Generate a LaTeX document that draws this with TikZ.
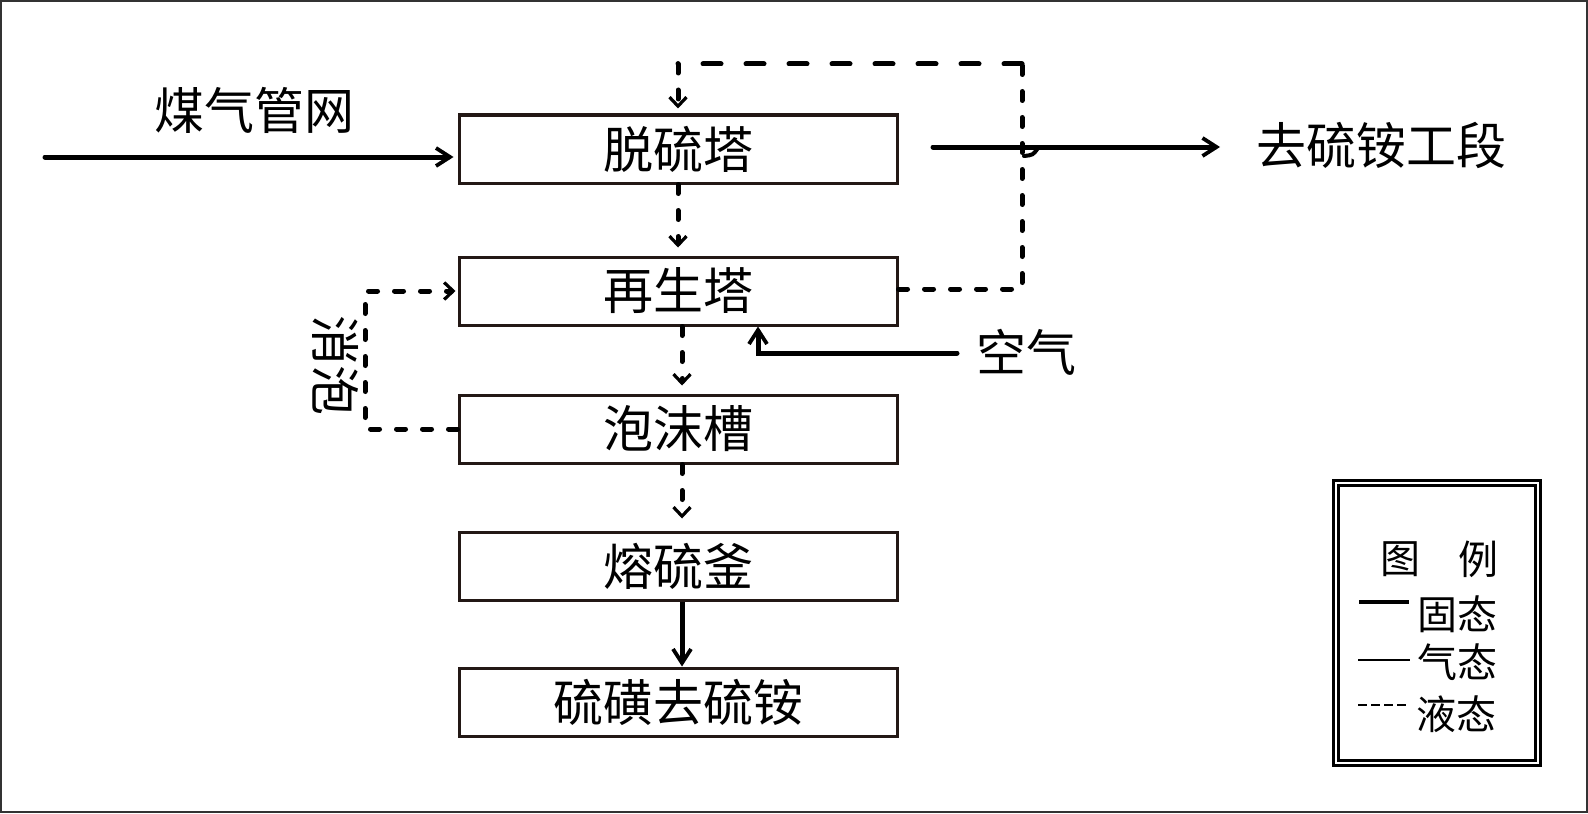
\documentclass[tikz,border=0pt]{standalone}
\usepackage{fontspec}
\newfontfamily\cjkf{Noto Sans CJK SC}
\usetikzlibrary{arrows.meta}
\definecolor{boxc}{HTML}{231815}
\newcommand\bigcn{\cjkf\fontsize{25pt}{30pt}\selectfont}
\newcommand\legcn{\cjkf\fontsize{20pt}{24pt}\selectfont}
\begin{document}
\begin{tikzpicture}[x=0.5pt,y=-0.5pt,
  box/.style={draw=boxc, line width=1.5pt, minimum width=219pt, minimum height=34pt, inner sep=0pt, font=\bigcn},
  lbl/.style={inner sep=0pt, font=\bigcn},
  leglbl/.style={inner sep=0pt, font=\legcn},
  solidarr/.style={line width=2.5pt, -{Straight Barb[length=7pt,width=9pt,line width=1.9pt]}},
  liq/.style={line width=2.5pt, line cap=round, dash pattern=on 4.5pt off 8.5pt},
  liqarr/.style={liq, -{Straight Barb[length=4.5pt,width=8.5pt,line width=1.6pt]}},
  longdash/.style={line width=2.5pt, line cap=round, dash pattern=on 9pt off 12.5pt}
]
\useasboundingbox (0,0) rectangle (1588,813);
\draw[line width=1pt, draw=black!80] (1,1) rectangle (1587,812);

% boxes
\node[box] (b1) at (678,149) {脱硫塔};
\node[box] (b2) at (678,291) {再生塔};
\node[box] (b3) at (678,429) {泡沫槽};
\node[box] (b4) at (678,566) {熔硫釜};
\node[box] (b5) at (678,702) {硫磺去硫铵};

% texts
\node[lbl] (tgas) at (254,110) {煤气管网};
\node[lbl] (tout) at (1381,145) {去硫铵工段};
\node[lbl] (tair) at (1026,352) {空气};
\node[lbl, rotate=-90] (tfoam) at (336,365) {消泡};

% gas in
\coordinate (gin) at (45,157);
\draw[solidarr, line cap=round, shorten >=2pt] (gin) -- (gin -| b1.west);

% out to ammonium sulfate
\coordinate (oa) at (933,147);
\coordinate (ob) at (1220,147);
\draw[solidarr, line cap=round] (oa) -- (ob);

% dashed recycle loop
\coordinate (c1) at (1022,289);
\coordinate (c2) at (1022,64);
\coordinate (c3) at (678,64);
\draw[liq] (b2.east |- c1) -- (c1) -- (c2);
\draw[longdash] (c2) -- (c3);
\draw[liqarr, shorten >=2.5pt] (c3) -- (b1.north);
\draw[line width=2pt, line cap=round] (1024,156) .. controls (1033,155) .. (1038,148);

% vertical flows
\coordinate (vx) at (682,0);
\draw[liqarr, shorten >=4pt] (b1.south) -- (b2.north);
\draw[liqarr, shorten >=4pt] (b2.south -| vx) -- (b3.north -| vx);
\draw[liqarr, shorten >=6pt] (b3.south -| vx) -- (b4.north -| vx);
\draw[solidarr] (b4.south -| vx) -- (b5.north -| vx);

% air
\coordinate (air) at (957,353);
\coordinate (ax) at (758,353);
\draw[solidarr, line cap=round] (air) -- (ax) -- (ax |- b2.south);

% foam loop
\coordinate (fx) at (365,0);
\draw[liqarr, shorten >=1pt] (b3.west) -- (b3.west -| fx) -- (b2.west -| fx) -- (b2.west);

% legend
\node[draw, line width=1.5pt, double, double distance=0.6pt, minimum width=101pt, minimum height=140pt, inner sep=0pt] (leg) at (1437,623) {};
\node[leglbl] (lg1) at (1400,559) {图};
\node[leglbl] (lg2) at (1478,559) {例};
\draw[line width=2pt] (1359,602) -- (1409,602);
\draw[line width=0.6pt] (1358,660) -- (1410,660);
\draw[line width=0.8pt, dash pattern=on 4.5pt off 2pt] (1358,705) -- (1407,705);
\node[leglbl] (lg3) at (1457,614) {固态};
\node[leglbl] (lg4) at (1457,662) {气态};
\node[leglbl] (lg5) at (1456,714) {液态};
\end{tikzpicture}
\end{document}
